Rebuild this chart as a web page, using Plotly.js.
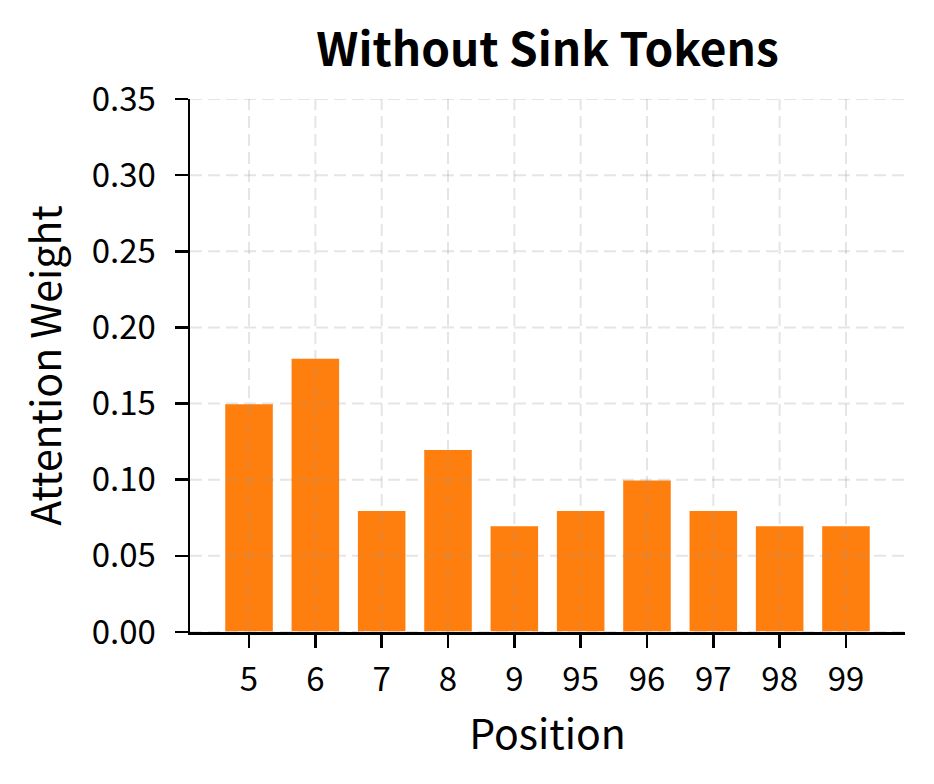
<!DOCTYPE html>
<html>
<head>
<meta charset="utf-8">
<script src="https://cdn.plot.ly/plotly-3.0.1.min.js"></script>
<style>
  html, body { margin: 0; padding: 0; background: #fff; }
  #chart { width: 934px; height: 784px; }
</style>
</head>
<body>
<div id="chart"></div>
<script>
const positions = ['5', '6', '7', '8', '9', '95', '96', '97', '98', '99'];
const weights = [0.15, 0.18, 0.08, 0.12, 0.07, 0.08, 0.10, 0.08, 0.07, 0.07];
const yTicks = [0, 0.05, 0.10, 0.15, 0.20, 0.25, 0.30, 0.35];
const yTickText = ['0.00', '0.05', '0.10', '0.15', '0.20', '0.25', '0.30', '0.35'];

const FONT = '"Noto Sans CJK JP", "Source Sans Pro", sans-serif';
const GRID = { color: 'rgba(150,150,150,0.25)', width: 2, dash: '12px,6px' };

// grid sits on top of the bars, like the original
// (category axis: shapes take the index, not the label, or '5' lands on '95')
const shapes = [];
positions.forEach((p, i) => {
  shapes.push({
    type: 'line', xref: 'x', x0: i, x1: i,
    yref: 'paper', y0: 0, y1: 1,
    line: GRID, layer: 'above',
  });
});
yTicks.forEach(v => {
  shapes.push({
    type: 'line', xref: 'paper', x0: 0, x1: 1,
    yref: 'y', y0: v, y1: v,
    line: GRID, layer: 'above',
  });
});

const trace = {
  x: positions,
  y: weights,
  type: 'bar',
  width: 0.74,
  marker: { color: '#ff7f0e', line: { color: '#ffffff', width: 1.5 } },
  hoverinfo: 'x+y',
};

const layout = {
  width: 934,
  height: 784,
  margin: { t: 99, r: 29, b: 152, l: 190 },
  paper_bgcolor: '#ffffff',
  plot_bgcolor: '#ffffff',
  font: { family: FONT, color: '#000000', size: 33 },
  showlegend: false,
  title: {
    text: '<b>Without Sink Tokens</b>',
    font: { family: FONT, size: 46, color: '#000000' },
    x: 0.5, xref: 'paper', xanchor: 'center',
    y: 52, yref: 'container', yanchor: 'middle',
  },
  xaxis: {
    type: 'category',
    range: [-0.89, 9.89],
    showgrid: false,
    zeroline: false,
    showline: true,
    linecolor: '#000000',
    linewidth: 2.5,
    ticks: 'outside',
    ticklen: 13,
    tickwidth: 2.5,
    tickcolor: '#000000',
    ticklabelstandoff: 4,
    tickfont: { family: FONT, size: 33, color: '#000000' },
    title: { text: 'Position', font: { family: FONT, size: 41, color: '#000000' }, standoff: 14 },
  },
  yaxis: {
    range: [0, 0.35],
    tickvals: yTicks,
    ticktext: yTickText,
    showgrid: false,
    zeroline: false,
    showline: true,
    linecolor: '#000000',
    linewidth: 2.5,
    ticks: 'outside',
    ticklen: 13,
    tickwidth: 2.5,
    tickcolor: '#000000',
    ticklabelstandoff: 12,
    tickfont: { family: FONT, size: 33, color: '#000000' },
    title: { text: 'Attention Weight', font: { family: FONT, size: 41, color: '#000000' }, standoff: 18 },
  },
  shapes: shapes,
};

Plotly.newPlot('chart', [trace], layout, { displayModeBar: false, staticPlot: true });
</script>
</body>
</html>
